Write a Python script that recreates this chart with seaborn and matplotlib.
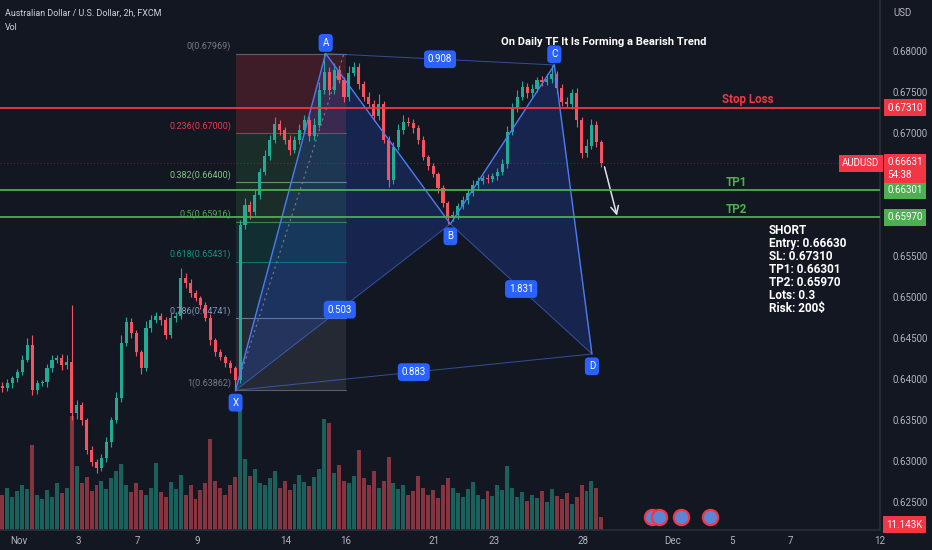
import numpy as np
import pandas as pd
import seaborn as sns
import matplotlib.pyplot as plt

closes = [0.63890, 0.63951, 0.64012, 0.64085, 0.64232, 0.64415, 0.63866, 0.63951, 0.63963, 0.64134,
          0.64232, 0.64256, 0.64171, 0.64207, 0.63585, 0.63683, 0.63500, 0.63134, 0.62988, 0.62915,
          0.63037, 0.63232, 0.63500, 0.63768, 0.64439, 0.64695, 0.64561, 0.64329, 0.64134, 0.64622,
          0.64720, 0.64768, 0.64720, 0.64537, 0.64744, 0.64768, 0.65232, 0.65171, 0.65049, 0.64988,
          0.64902, 0.64744, 0.64476, 0.64329, 0.64268, 0.64195, 0.64134, 0.63988, 0.65878, 0.66122,
          0.66037, 0.66244, 0.66524, 0.66720, 0.66915, 0.67110, 0.67037, 0.66915, 0.66793, 0.66915,
          0.67037, 0.67159, 0.66963, 0.67098, 0.67524, 0.67744, 0.67524, 0.67768, 0.67646, 0.67439,
          0.67732, 0.67805, 0.67598, 0.67439, 0.67354, 0.67207, 0.67354, 0.66915, 0.66427, 0.66829,
          0.67037, 0.67134, 0.67122, 0.67061, 0.66915, 0.66707, 0.66598, 0.66500, 0.66329, 0.66146,
          0.65963, 0.66000, 0.66110, 0.66183, 0.66268, 0.66366, 0.66415, 0.66451, 0.66439, 0.66476,
          0.66524, 0.66622, 0.67012, 0.67305, 0.67439, 0.67561, 0.67488, 0.67537, 0.67646, 0.67622,
          0.67659, 0.67720, 0.67549, 0.67378, 0.67354, 0.67488, 0.67159, 0.66756, 0.66841, 0.67098,
          0.66890, 0.66631]
first_open = 0.63920
wick_up_pips = [4, 5, 3, 4, 6, 8, 12, 4, 3, 5, 6, 4, 5, 8, 70, 6, 4, 3, 5, 4,
                5, 6, 4, 7, 10, 6, 5, 4, 3, 8, 6, 5, 4, 3, 6, 5, 12, 6, 5, 4,
                3, 4, 5, 3, 4, 3, 4, 3, 6, 8, 5, 6, 5, 7, 6, 8, 5, 4, 6, 5,
                7, 6, 5, 8, 10, 23, 6, 9, 5, 4, 8, 6, 5, 4, 6, 5, 12, 4, 5, 6,
                7, 8, 6, 5, 4, 5, 3, 4, 3, 4, 3, 5, 4, 5, 4, 6, 5, 4, 5, 4,
                5, 6, 7, 6, 8, 7, 5, 6, 4, 5, 6, 11, 4, 5, 6, 5, 6, 4, 8, 7,
                5, 3]
wick_dn_pips = [5, 4, 6, 5, 4, 3, 6, 5, 4, 6, 5, 4, 6, 5, 8, 7, 6, 5, 5, 6,
                4, 5, 6, 4, 5, 4, 6, 5, 7, 4, 5, 4, 6, 5, 4, 5, 4, 6, 5, 4,
                5, 4, 6, 5, 4, 5, 6, 13, 4, 5, 8, 4, 5, 4, 5, 4, 6, 5, 6, 4,
                5, 4, 6, 5, 4, 5, 6, 5, 4, 6, 5, 4, 6, 5, 4, 6, 5, 4, 9, 5,
                4, 5, 4, 6, 5, 4, 5, 4, 6, 5, 7, 4, 5, 4, 5, 4, 5, 4, 5, 4,
                5, 4, 5, 4, 5, 4, 6, 5, 4, 5, 4, 5, 6, 5, 4, 6, 8, 6, 5, 4,
                6, 4]
volumes_k = [30, 36, 28, 33, 38, 35, 72, 30, 26, 34, 28, 40, 31, 36, 97, 54, 40, 45, 33, 38,
             42, 35, 44, 50, 56, 38, 32, 40, 34, 30, 36, 57, 32, 28, 41, 35, 47, 30, 38, 26,
             34, 40, 77, 42, 36, 30, 38, 45, 104, 60, 46, 52, 40, 38, 44, 50, 36, 42, 34, 39,
             47, 41, 37, 45, 52, 94, 91, 48, 55, 42, 40, 46, 68, 44, 38, 50, 36, 42, 62, 40,
             35, 38, 30, 33, 46, 36, 30, 34, 27, 38, 44, 36, 31, 28, 35, 41, 30, 26, 33, 29,
             38, 34, 54, 36, 28, 32, 25, 30, 27, 33, 24, 35, 29, 26, 31, 22, 28, 38, 33, 42,
             36, 11.143]

# date axis (trading days since Nov 1, 6 candles per day)
date_labels = ['Nov', '3', '7', '9', '14', '16', '21', '23', '28', 'Dec', '5', '7', '12']
date_days = [0, 2, 4, 6, 9, 11, 14, 16, 19, 22, 24, 26, 29]

# fib retracement X -> A
fib_levels = [0, 0.236, 0.382, 0.5, 0.618, 0.786, 1]
fib_prices = [0.67969, 0.67000, 0.66400, 0.65916, 0.65431, 0.64741, 0.63862]
fib_colors = ['#787b86', '#f23645', '#81c784', '#4caf50', '#089981', '#7f9cc0', '#787b86']

# XABCD pattern
pat_labels = ['X', 'A', 'B', 'C', 'D']
pat_bars = [47.1, 65.3, 90.5, 111.5, 119.1]
pat_prices = [0.63862, 0.67969, 0.65890, 0.67830, 0.64305]
ratio_labels = ['0.503', '0.908', '1.831', '0.883']

stop_loss, tp1, tp2, last_price = 0.67310, 0.66301, 0.65970, 0.66631
event_bars = [131.2, 132.6, 137.1, 142.9]

BG = '#131722'
GREEN = '#22ab94'
RED = '#f7525f'
TXT = '#b2b5be'
BLUE = '#2962ff'

sns.set_theme(style='dark', rc={'axes.facecolor': BG, 'figure.facecolor': BG})
plt.rcParams['font.family'] = ['Roboto', 'DejaVu Sans']

df = pd.DataFrame({'close': closes, 'vol': volumes_k})
df['bar'] = np.arange(len(df))
df['open'] = [first_open] + closes[:-1]
df['high'] = df[['open', 'close']].max(axis=1) + np.array(wick_up_pips) / 10000
df['low'] = df[['open', 'close']].min(axis=1) - np.array(wick_dn_pips) / 10000
df['up'] = df['close'] >= df['open']

fig = plt.figure(figsize=(9.32, 5.5), dpi=100)
ax = fig.add_axes([0, 20 / 550, 880 / 932, 530 / 550])
axv = ax.twinx()
ax.set_zorder(2)
axv.set_zorder(1)
ax.patch.set_visible(False)

# volume
vcols = np.where(df['up'], GREEN, RED)
axv.bar(df['bar'], df['vol'], width=0.8, color=vcols, alpha=0.5, linewidth=0)
axv.set_ylim(0, 450)
axv.set_yticks([])
for s in axv.spines.values():
    s.set_visible(False)

# candles
ax.vlines(df['bar'], df['low'], df['high'], colors=vcols, linewidth=0.8, zorder=3)
body = (df['close'] - df['open']).abs().clip(lower=0.00003)
ax.bar(df['bar'], body, bottom=df[['open', 'close']].min(axis=1), width=0.62,
       color=vcols, linewidth=0, zorder=3)

# fib retracement box
fx0, fx1 = pat_bars[0], 69.5
fills = ['#f23645', '#4caf50', '#4caf50', '#089981', '#2f6f8f', '#787b86']
alphas = [0.2, 0.15, 0.15, 0.18, 0.2, 0.18]
for i in range(len(fib_prices) - 1):
    ax.fill_between([fx0, fx1], fib_prices[i + 1], fib_prices[i], color=fills[i],
                    alpha=alphas[i], linewidth=0, zorder=1)
for lv, pr, col in zip(fib_levels, fib_prices, fib_colors):
    ax.plot([fx0, fx1], [pr, pr], color=col, lw=0.8, alpha=0.7, zorder=2)
    ax.text(fx0 - 0.9, pr + 0.0003, f'{lv}({pr:.5f})', color=col, fontsize=6.5,
            ha='right', va='bottom', zorder=6)
ax.plot([fx0, 69.0], [fib_prices[-1], fib_prices[0]], color='#787b86', lw=0.8,
        ls=(0, (2, 3)), zorder=4)

# harmonic pattern
px = dict(zip(pat_labels, pat_bars))
pp = dict(zip(pat_labels, pat_prices))
for tri in (['X', 'A', 'B'], ['B', 'C', 'D']):
    ax.fill([px[k] for k in tri], [pp[k] for k in tri], color=BLUE, alpha=0.2, lw=0, zorder=2)
for a, b in [('X', 'A'), ('A', 'B'), ('B', 'C'), ('C', 'D')]:
    ax.plot([px[a], px[b]], [pp[a], pp[b]], color='#4d7cf5', lw=1.0, zorder=4)
for a, b in [('X', 'B'), ('A', 'C'), ('B', 'D'), ('X', 'D')]:
    ax.plot([px[a], px[b]], [pp[a], pp[b]], color='#4d7cf5', lw=0.7, alpha=0.55, zorder=4)
box = dict(boxstyle='round,pad=0.4', fc=BLUE, ec='none')
for k in pat_labels:
    above = k in ('A', 'C')
    ax.text(px[k], pp[k] + (0.0013 if above else -0.0015), k, color='white', fontsize=7,
            ha='center', va='center', bbox=box, zorder=7)
for (a, b), t in zip([('X', 'B'), ('A', 'C'), ('B', 'D'), ('X', 'D')], ratio_labels):
    fr = 0.485 if t == '0.503' else 0.5
    ax.text(px[a] + (px[b] - px[a]) * fr, pp[a] + (pp[b] - pp[a]) * fr, t, color='white',
            fontsize=7, ha='center', va='center', bbox=box, zorder=7)

# trade levels
ax.axhline(stop_loss, color='#f23645', lw=1.3, zorder=5)
ax.axhline(tp1, color='#4caf50', lw=1.3, zorder=5)
ax.axhline(tp2, color='#4caf50', lw=1.3, zorder=5)
ax.axhline(last_price, color='#f23645', lw=0.8, alpha=0.35, ls=(0, (1, 2)), zorder=2)
ax.text(150.5, stop_loss + 0.0002, 'Stop Loss', color='#f23645', fontsize=8.4,
        ha='center', va='bottom', fontweight='bold')
ax.text(148.3, tp1 + 0.0002, 'TP1', color='#4caf50', fontsize=8.4, ha='center',
        va='bottom', fontweight='bold')
ax.text(148.3, tp2 + 0.0002, 'TP2', color='#4caf50', fontsize=8.4, ha='center',
        va='bottom', fontweight='bold')
ax.annotate('', xy=(124.3, 0.6596), xytext=(121.5, 0.6662),
            arrowprops=dict(arrowstyle='->', color='#e0e3eb', lw=1.1, mutation_scale=14))
ax.text(154.8, 0.65885,
        'SHORT\nEntry: 0.66630\nSL: 0.67310\nTP1: 0.66301\nTP2: 0.65970\nLots: 0.3\nRisk: 200$',
        color='white', fontsize=8.5, ha='left', va='top', fontweight='bold',
        linespacing=1.0)
ax.text(121.5, 0.6811, 'On Daily TF It Is Forming a Bearish Trend', color='white', fontsize=8,
        ha='center', va='center', fontweight='bold')

# economic events
ev = pd.DataFrame({'bar': event_bars, 'y': [0.62317] * len(event_bars)})
sns.scatterplot(data=ev, x='bar', y='y', ax=ax, s=120, color='#5b86d6', edgecolor='#f23645',
                linewidth=1.6, zorder=6, legend=False)

# axes
ax.set_xlim(-0.5, 175.5)
ax.set_ylim(0.621585, 0.686220)
ax.set_xticks([3.3 + 6 * d for d in date_days])
ax.set_xticklabels(date_labels)
yt = np.arange(0.625, 0.6801, 0.005)
ax.yaxis.tick_right()
ax.set_yticks(yt)
# the price tags hide the 0.660 and 0.665 labels
ax.set_yticklabels(['' if round(v, 3) in (0.66, 0.665) else f'{v:.5f}' for v in yt])
ax.tick_params(axis='both', colors=TXT, labelsize=7, length=0)
ax.tick_params(axis='y', pad=9)
ax.tick_params(axis='x', pad=4)
ax.set_xlabel('')
ax.set_ylabel('')
ax.grid(False)
for name, s in ax.spines.items():
    s.set_visible(name in ('bottom', 'right'))
    s.set_color('#2a2e39')

# price axis tags
tr = ax.get_yaxis_transform()
tags = [(stop_loss, '0.67310', '#f23645'), (tp1, '0.66301', '#4caf50'), (tp2, '0.65970', '#4caf50')]
for y, t, c in tags:
    ax.text(1.008, y, t, transform=tr, color='white', fontsize=7, ha='left', va='center',
            bbox=dict(boxstyle='square,pad=0.35', fc=c, ec='none'), clip_on=False, zorder=8)
ax.text(1.008, last_price - 0.00065, '0.66631\n54:38', transform=tr, color='white', fontsize=7,
        ha='left', va='center', linespacing=1.35,
        bbox=dict(boxstyle='square,pad=0.35', fc='#f23645', ec='none'), clip_on=False, zorder=8)
ax.text(0.9995, last_price, 'AUDUSD', transform=tr, color='white', fontsize=7, ha='right',
        va='center', bbox=dict(boxstyle='square,pad=0.35', fc='#f23645', ec='none'),
        clip_on=False, zorder=8)
ax.text(1.007, 0.62225, '11.143K', transform=tr, color='white', fontsize=7, ha='left',
        va='center', bbox=dict(boxstyle='square,pad=0.35', fc='#f23645', ec='none'),
        clip_on=False, zorder=8)

fig.text(5 / 932, 1 - 13 / 550, 'Australian Dollar / U.S. Dollar, 2h, FXCM', color='#d1d4dc',
         fontsize=6.4, va='center')
fig.text(5 / 932, 1 - 28 / 550, 'Vol', color='#d1d4dc', fontsize=6.4, va='center')
fig.text(893 / 932, 1 - 13 / 550, 'USD', color=TXT, fontsize=7, va='center')

fig.savefig('out.png', dpi=100, facecolor=BG)
